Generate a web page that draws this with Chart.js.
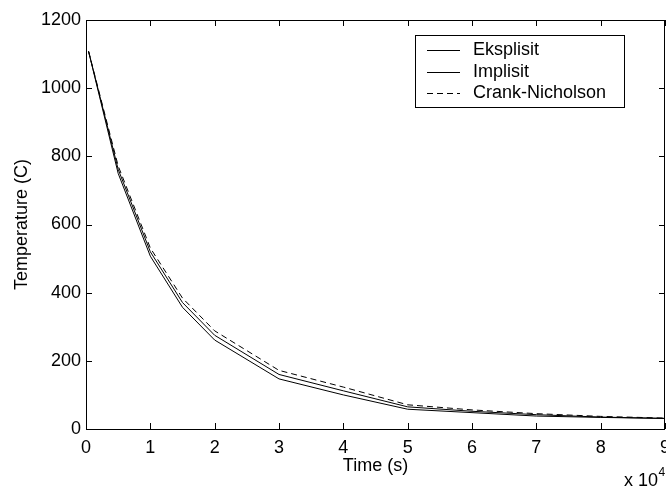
<!DOCTYPE html>
<html><head><meta charset="utf-8">
<script src="https://cdn.jsdelivr.net/npm/chart.js@4"></script>
<style>html,body{margin:0;padding:0;background:#fff;overflow:hidden}#wrap{width:666px;height:489px;position:relative}</style>
</head><body><div id="wrap"><canvas id="c" width="666" height="489"></canvas></div>
<script>
// ---- data (time in units of 10^4 s, temperature in C) ----
const times = [0.04, 0.5, 1, 1.5, 2, 3, 4, 5, 6, 7, 8, 9];
const eksplisit = [1108, 750, 507, 357, 261, 147, 100, 58, 48, 38, 34, 31];
const implisit = [1108, 762, 520, 371, 275, 160, 112, 65, 52, 42, 35, 31];
const crankNicholson = [1108, 772, 531, 384, 288, 172, 123, 71, 56, 45, 37, 32];
const seriesLabels = ['Eksplisit', 'Implisit', 'Crank-Nicholson'];
const xTicks = [0, 1, 2, 3, 4, 5, 6, 7, 8, 9];
const yTicks = [0, 200, 400, 600, 800, 1000, 1200];
const xTitle = 'Time (s)';
const yTitle = 'Temperature (C)';
const xExponent = ['x 10', '4'];

const FONT = '"Liberation Sans", Arial, Helvetica, sans-serif';
const pts = arr => arr.map((v, i) => ({x: times[i], y: v}));

const framePlugin = {
  id: 'frame',
  afterDraw(chart) {
    const {ctx, chartArea: a, scales: {x, y}} = chart;
    ctx.save();
    ctx.strokeStyle = '#000';
    ctx.lineWidth = 1;
    ctx.strokeRect(a.left + 0.5, a.top + 0.5, a.right - a.left - 1, a.bottom - a.top);
    const tl = 6;
    ctx.beginPath();
    xTicks.forEach(v => {
      const px = Math.round(x.getPixelForValue(v)) + 0.5;
      ctx.moveTo(px, a.bottom); ctx.lineTo(px, a.bottom - tl);
      ctx.moveTo(px, a.top); ctx.lineTo(px, a.top + tl);
    });
    yTicks.forEach(v => {
      const py = Math.round(y.getPixelForValue(v)) + 0.5;
      ctx.moveTo(a.left, py); ctx.lineTo(a.left + tl, py);
      ctx.moveTo(a.right, py); ctx.lineTo(a.right - tl, py);
    });
    ctx.stroke();

    // legend
    const lx = 415, ly = 35, lw = 209, lh = 72;
    ctx.fillStyle = '#fff';
    ctx.fillRect(lx, ly, lw, lh);
    ctx.strokeRect(lx + 0.5, ly + 0.5, lw, lh);
    ctx.font = '18px ' + FONT;
    ctx.textBaseline = 'middle';
    ctx.textAlign = 'left';
    chart.data.datasets.forEach((ds, i) => {
      const yy = Math.round(50 + i * 21.7) + 0.5;
      ctx.beginPath();
      ctx.setLineDash(ds.borderDash || []);
      ctx.strokeStyle = ds.borderColor;
      ctx.lineWidth = ds.borderWidth;
      ctx.moveTo(427, yy); ctx.lineTo(460, yy);
      ctx.stroke();
      ctx.setLineDash([]);
      ctx.fillStyle = '#000';
      ctx.fillText(ds.label, 473, yy);
    });

    // exponent label
    ctx.textBaseline = 'alphabetic';
    ctx.font = '18px ' + FONT;
    ctx.fillText(xExponent[0], 624, 486);
    const w = ctx.measureText(xExponent[0]).width;
    ctx.font = '12px ' + FONT;
    ctx.fillText(xExponent[1], 624 + w + 0.5, 476);
    ctx.restore();
  }
};

new Chart(document.getElementById('c'), {
  type: 'line',
  data: {
    datasets: [
      {label: seriesLabels[0], data: pts(eksplisit), borderColor: '#000', borderWidth: 1, pointRadius: 0, tension: 0},
      {label: seriesLabels[1], data: pts(implisit), borderColor: '#000', borderWidth: 1, pointRadius: 0, tension: 0},
      {label: seriesLabels[2], data: pts(crankNicholson), borderColor: '#000', borderWidth: 1, pointRadius: 0, tension: 0, borderDash: [6, 4]}
    ]
  },
  options: {
    responsive: false,
    animation: false,
    devicePixelRatio: 1,
    layout: {padding: {top: 20, right: 1, left: 0, bottom: 0}},
    plugins: {legend: {display: false}, tooltip: {enabled: false}},
    scales: {
      x: {
        type: 'linear', min: 0, max: 9,
        afterBuildTicks: s => { s.ticks = xTicks.map(v => ({value: v})); },
        afterFit: s => { s.height = 60; s.paddingLeft = 0; s.paddingRight = 0; },
        grid: {display: false, drawTicks: false},
        border: {display: false},
        ticks: {color: '#000', font: {family: FONT, size: 18}, padding: 8, maxRotation: 0, autoSkip: false, callback: v => String(v)},
        title: {display: true, text: xTitle, color: '#000', font: {family: FONT, size: 18, lineHeight: 1.2}, padding: {top: 0, bottom: 12}}
      },
      y: {
        type: 'linear', min: 0, max: 1200,
        afterBuildTicks: s => { s.ticks = yTicks.map(v => ({value: v})); },
        afterFit: s => { s.width = 86; s.paddingTop = 0; s.paddingBottom = 0; },
        grid: {display: false, drawTicks: false},
        border: {display: false},
        ticks: {color: '#000', font: {family: FONT, size: 18}, padding: 5, callback: v => String(v)},
        title: {display: true, text: yTitle, color: '#000', font: {family: FONT, size: 18, lineHeight: 1.2}, padding: {top: 11, bottom: 0}}
      }
    }
  },
  plugins: [framePlugin]
});
</script>
</body></html>
